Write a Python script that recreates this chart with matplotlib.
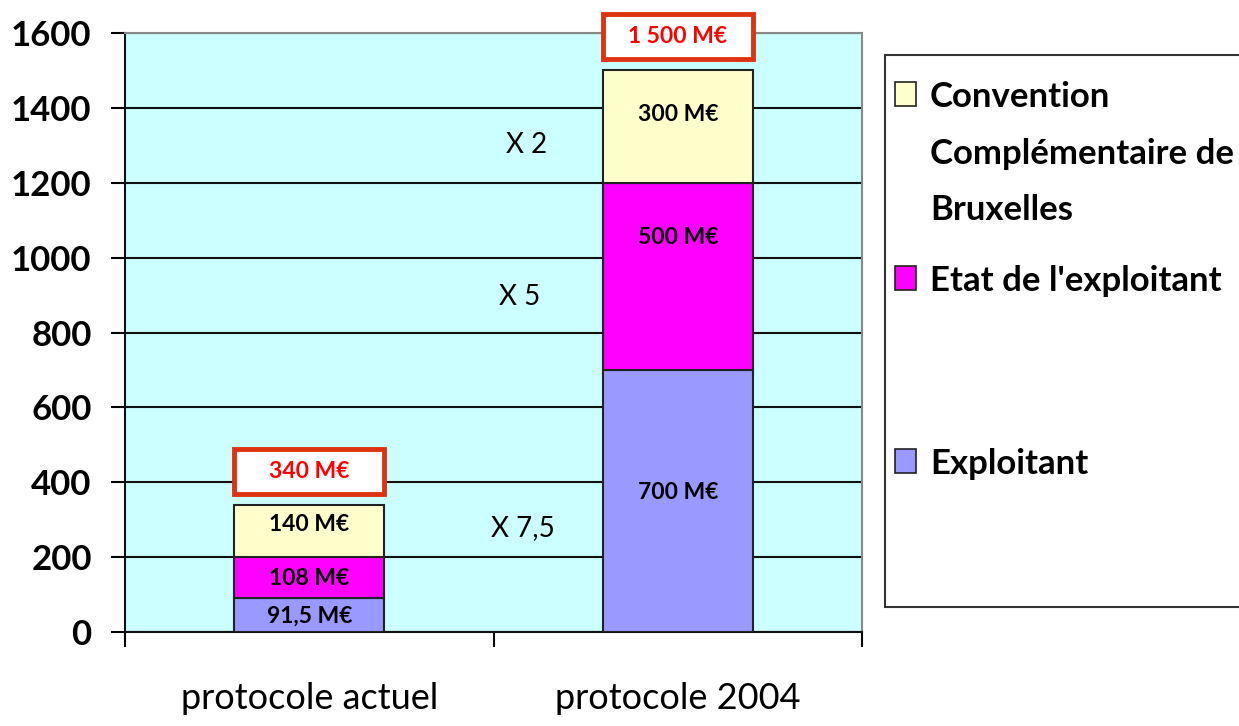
import matplotlib
matplotlib.use("Agg")
import matplotlib.pyplot as plt
from matplotlib.patches import Rectangle
import numpy as np

categories = ["protocole actuel", "protocole 2004"]
series_names = ["Exploitant", "Etat de l'exploitant",
                "Convention\nComplémentaire de\nBruxelles"]
exploitant = [91.5, 700]
etat = [108, 500]
convention = [140, 300]
segment_labels = [["91,5 M€", "700 M€"], ["108 M€", "500 M€"], ["140 M€", "300 M€"]]
total_labels = ["340 M€", "1 500 M€"]
ratio_labels = ["X 2", "X 5", "X 7,5"]
yticks = [0, 200, 400, 600, 800, 1000, 1200, 1400, 1600]

colors = ["#9999FF", "#FF00FF", "#FFFFCC"]
red = "#FF0000"
box_red = "#DD3311"

plt.rcParams["font.family"] = ["Lato", "DejaVu Sans"]

fig = plt.figure(figsize=(12.39, 7.26), dpi=100)
ax = fig.add_axes([125 / 1239, 1 - 632 / 726, 737 / 1239, 599 / 726])
ax.set_facecolor("#CCFFFF")

x = np.arange(len(categories))
width = 0.407
bottom = np.zeros(len(categories))
series = [exploitant, etat, convention]
# vertical nudges (points) for the value labels inside each segment
nudges = [[-1, 6], [-1, 28], [5, 9]]
for i, vals in enumerate(series):
    vals = np.array(vals, dtype=float)
    ax.bar(x, vals, width, bottom=bottom, color=colors[i], edgecolor="#222222",
           linewidth=1.5, zorder=3)
    for j in range(len(x)):
        ax.annotate(segment_labels[i][j], (x[j], bottom[j] + vals[j] / 2),
                    xytext=(0, nudges[i][j]), textcoords="offset points",
                    ha="center", va="center", fontsize=16.5, fontweight="bold",
                    zorder=5)
    bottom += vals

# totals in red boxes above each bar
for j in range(len(x)):
    ax.add_patch(Rectangle((x[j] - width / 2, bottom[j] + 30), width, 120,
                           facecolor="white", edgecolor=box_red, linewidth=3.5,
                           clip_on=False, zorder=6))
    ax.text(x[j], bottom[j] + 90, total_labels[j], ha="center", va="center",
            color=red, fontsize=16.5, fontweight="bold", zorder=7, clip_on=False)

# growth ratios between the bars
ratio_pos = [(0.59, 1300), (0.57, 895), (0.58, 278)]
for lab, (px, py) in zip(ratio_labels, ratio_pos):
    ax.text(px, py, lab, ha="center", va="center", fontsize=20, zorder=5)

ax.set_xlim(-0.5, 1.5)
ax.set_ylim(0, 1600)
ax.set_yticks(yticks)
ax.set_yticklabels([str(t) for t in yticks], fontsize=25, fontweight="bold")
ax.yaxis.grid(True, color="#111111", linewidth=1.5, zorder=1)
ax.set_axisbelow(True)
ax.tick_params(axis="y", length=10, width=1.5, pad=14)

ax.set_xticks([-0.5, 0.5, 1.5])
ax.set_xticklabels([])
ax.set_xticks(x, minor=True)
ax.set_xticklabels(categories, minor=True, fontsize=26)
ax.tick_params(axis="x", which="major", length=11, width=1.5)
ax.tick_params(axis="x", which="minor", length=0, pad=36)

for side in ["left", "bottom"]:
    ax.spines[side].set_color("#111111")
    ax.spines[side].set_linewidth(1.5)
for side in ["top", "right"]:
    ax.spines[side].set_color("#888888")
    ax.spines[side].set_linewidth(1.5)

# legend drawn by hand to keep the original spacing and cropping
fig.add_artist(Rectangle((885 / 1239, 1 - 607 / 726), 400 / 1239, 552 / 726,
                         transform=fig.transFigure, facecolor="white",
                         edgecolor="#333333", linewidth=1.5))
leg_rows = [(2, 94), (1, 278), (0, 461)]
for idx, yc in leg_rows:
    fig.add_artist(Rectangle((895 / 1239, 1 - (yc + 12) / 726), 21 / 1239, 24 / 726,
                             transform=fig.transFigure, facecolor=colors[idx],
                             edgecolor="#222222", linewidth=1.2))
    fig.text(930 / 1239, 1 - (yc - 13) / 726, series_names[idx], ha="left",
             va="top", fontsize=25, fontweight="bold", linespacing=1.95)

fig.savefig("out.png", dpi=100)
